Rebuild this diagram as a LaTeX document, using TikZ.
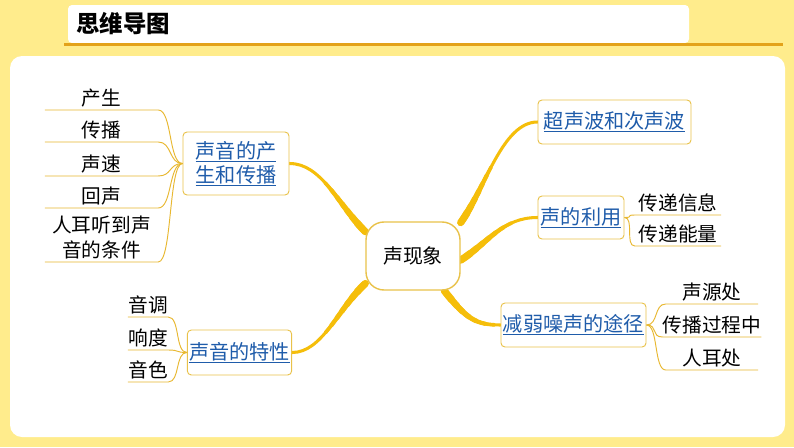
\documentclass[tikz,border=0pt]{standalone}
\usepackage{fontspec}
\setmainfont{Noto Sans CJK SC}
\usetikzlibrary{backgrounds}
\definecolor{bgyellow}{HTML}{FFEC8C}
\definecolor{barorange}{HTML}{E3A21A}
\definecolor{branchgold}{HTML}{F5BE0A}
\definecolor{boxgold}{HTML}{E9C24A}
\definecolor{leafgold}{HTML}{E8B830}
\definecolor{linkblue}{HTML}{1F5CAA}
\newcommand\ulink[1]{\setbox0\hbox{#1}\rlap{\raisebox{-\dimexpr\dp0+1.3pt\relax}{\rule{\wd0}{0.8pt}}}\box0}
\tikzset{
  mainnode/.style={draw=boxgold, line width=1.2pt, fill=white, rounded corners=18*0.03cm,
    minimum width=94*0.03cm, minimum height=68*0.03cm, font=\fontsize{17}{20}\selectfont},
  topicbox/.style={draw=boxgold, line width=0.8pt, fill=white, rounded corners=4*0.03cm,
    minimum height=44*0.03cm, inner xsep=1.5pt, text=linkblue, align=center,
    font=\fontsize{17.2}{21}\selectfont},
  leaf/.style={anchor=south, inner xsep=0pt, inner ysep=2.5pt, align=center,
    font=\fontsize{16.8}{21}\selectfont},
  taper/.style 2 args={postaction={draw=branchgold, line width=#1, line cap=round,
    dash pattern=on #2 off 600pt}},
  branch/.style={draw=branchgold, line width=2.6pt, line cap=round,
    taper={3.1pt}{54pt}, taper={3.6pt}{46pt}, taper={4.1pt}{38pt}, taper={4.6pt}{31pt},
    taper={5.1pt}{24pt}, taper={5.6pt}{17pt}, taper={6.1pt}{10pt}},
  leafline/.style={draw=leafgold, line width=0.8pt}
}
\begin{document}
\begin{tikzpicture}[x=0.03cm, y=-0.03cm]
  \useasboundingbox (0,0) rectangle (794,447);
  \begin{pgfonlayer}{background}
    \fill[bgyellow] (0,0) rectangle (794,447);
    \fill[white, rounded corners=4*0.03cm] (68,5) rectangle (689,43);
    \draw[barorange, line width=2.6pt] (64,44.5) -- (783,44.5);
    \fill[white, rounded corners=12*0.03cm] (10,56) rectangle (785,437);
  \end{pgfonlayer}
  \node[anchor=west, inner sep=0pt, font=\fontsize{20}{22}\selectfont\bfseries] (T) at (76,24) {思维导图};

  % centre and topics
  \node[mainnode] (C) at (413,256) {声现象};
  \node[topicbox, minimum width=106*0.03cm, minimum height=63*0.03cm] (B1) at (236,163.5)
    {\ulink{声音的产}\\\ulink{生和传播}};
  \node[topicbox, minimum width=101*0.03cm, minimum height=45*0.03cm] (B2) at (239.5,352.5) {\ulink{声音的特性}};
  \node[topicbox, minimum width=153*0.03cm] (B3) at (614.5,122) {\ulink{超声波和次声波}};
  \node[topicbox, minimum width=86*0.03cm, minimum height=43*0.03cm] (B4) at (581,217.5) {\ulink{声的利用}};
  \node[topicbox, minimum width=145*0.03cm] (B5) at (573.5,325) {\ulink{减弱噪声的途径}};

  % leaves, left top
  \node[leaf, minimum width=113*0.03cm] (L1_1) at (101.5,110) {产生};
  \node[leaf, minimum width=113*0.03cm] (L1_2) at (101.5,142) {传播};
  \node[leaf, minimum width=113*0.03cm] (L1_3) at (101.5,176) {声速};
  \node[leaf, minimum width=113*0.03cm] (L1_4) at (101.5,208) {回声};
  \node[leaf, minimum width=113*0.03cm] (L1_5) at (101.5,262) {人耳听到声\\音的条件};
  % leaves, left bottom
  \node[leaf, minimum width=40*0.03cm] (L2_1) at (148,317) {音调};
  \node[leaf, minimum width=40*0.03cm] (L2_2) at (148,350) {响度};
  \node[leaf, minimum width=40*0.03cm] (L2_3) at (148,382) {音色};
  % leaves, right
  \node[leaf, minimum width=86*0.03cm] (L4_1) at (678,215) {传递信息};
  \node[leaf, minimum width=86*0.03cm] (L4_2) at (678,246) {传递能量};
  \node[leaf, minimum width=92*0.03cm] (L5_1) at (712,304) {声源处};
  \node[leaf, minimum width=92*0.03cm] (L5_2) at (712,337) {传播过程中};
  \node[leaf, minimum width=92*0.03cm] (L5_3) at (712,370) {人耳处};

  \begin{pgfonlayer}{background}
    \draw[branch] (C.153) .. controls +(-28,-28) and +(32,0) .. (B1.east);
    \draw[branch] (C.-150) .. controls +(-28,26) and +(30,0) .. (B2.east);
    \draw[branch] (C.35) .. controls +(25,-35) and +(-35,0) .. (B3.west);
    \draw[branch] (C.-5) .. controls +(28,-18) and +(-35,0) .. (B4.west);
    \draw[branch] (C.-48) .. controls +(22,28) and +(-25,0) .. (B5.west);
  \end{pgfonlayer}

  \foreach \n in {L1_1,L1_2,L1_3,L1_4,L1_5}
    \draw[leafline] (\n.south west) -- (\n.south east) .. controls +(14,0) and +(-14,0) .. (B1.west);
  \foreach \n in {L2_1,L2_2,L2_3}
    \draw[leafline] (\n.south west) -- (\n.south east) .. controls +(12,0) and +(-12,0) .. (B2.west);
  \foreach \n in {L4_1,L4_2}
    \draw[leafline] (B4.east) .. controls +(10,0) and +(-10,0) .. (\n.south west) -- (\n.south east);
  \foreach \n in {L5_1,L5_2,L5_3}
    \draw[leafline] (B5.east) .. controls +(12,0) and +(-12,0) .. (\n.south west) -- (\n.south east);
\end{tikzpicture}
\end{document}
